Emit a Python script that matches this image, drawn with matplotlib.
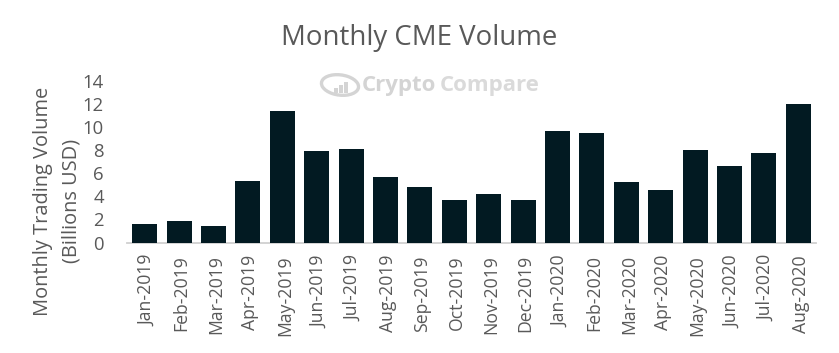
import matplotlib
matplotlib.use("Agg")
import matplotlib.pyplot as plt
from matplotlib.patches import Ellipse, Rectangle
from matplotlib.transforms import ScaledTranslation

months = ["Jan-2019","Feb-2019","Mar-2019","Apr-2019","May-2019","Jun-2019","Jul-2019","Aug-2019",
          "Sep-2019","Oct-2019","Nov-2019","Dec-2019","Jan-2020","Feb-2020","Mar-2020","Apr-2020",
          "May-2020","Jun-2020","Jul-2020","Aug-2020"]
volume = [1.6,1.9,1.4,5.3,11.4,7.9,8.1,5.7,4.8,3.7,4.2,3.7,9.6,9.5,5.2,4.5,8.0,6.6,7.7,12.0]
yticks = [0,2,4,6,8,10,12,14]

W, H = 839, 353
plt.rcParams['font.family'] = ['Open Sans', 'DejaVu Sans']
fig = plt.figure(figsize=(W/100, H/100), dpi=100, facecolor='white')
ax = fig.add_axes([127.5/W, 1-242.5/H, (815.5-127.5)/W, 162/H])
x = list(range(len(months)))
ax.bar(x, volume, width=0.73, color='#021A22', zorder=3)
ax.set_xlim(-0.5, len(months)-0.5)
ax.set_ylim(0, 14)
ax.set_yticks(yticks)
ax.set_xticks(x)
ax.set_xticklabels(months, rotation=90, fontsize=12.7, color='#595959')
ax.tick_params(axis='y', length=0, labelsize=13.3, labelcolor='#595959', pad=17)
ax.tick_params(axis='x', length=0, pad=9)
shift = ScaledTranslation(2.5/100, 0, fig.dpi_scale_trans)
for lab in ax.get_xticklabels():
    lab.set_transform(lab.get_transform() + shift)
for s in ['top','right','left']:
    ax.spines[s].set_visible(False)
ax.spines['bottom'].set_color('#D0D0D0')
ax.spines['bottom'].set_linewidth(1.3)

fig.text(419/W, 1-38/H, "Monthly CME Volume", ha='center', va='center', fontsize=19.9, color='#595959')
fig.text(43.5/W, 1-201/H, "Monthly Trading Volume", rotation=90, ha='center', va='center', fontsize=14.4, color='#595959')
fig.text(71.5/W, 1-201/H, "(Billions USD)", rotation=90, ha='center', va='center', fontsize=14.4, color='#595959')
fig.text(362/W, 1-85/H, "Crypto", ha='left', va='center', fontsize=16, fontweight='bold', color='#D4D4D4')
fig.text(440/W, 1-85/H, "Compare", ha='left', va='center', fontsize=16, fontweight='bold', color='#DADADA')
fig.add_artist(Ellipse((340/W, 1-85/H), 36/W, 21/H, angle=15, transform=fig.transFigure,
                       facecolor='none', edgecolor='#D4D4D4', linewidth=2.4))
for px, top in [(334, 88), (339, 85), (344, 82)]:
    fig.add_artist(Rectangle((px/W, 1-93/H), 3.5/W, (93-top)/H, transform=fig.transFigure,
                             facecolor='#D4D4D4', edgecolor='none'))
fig.savefig("out.png", dpi=100, facecolor='white')
